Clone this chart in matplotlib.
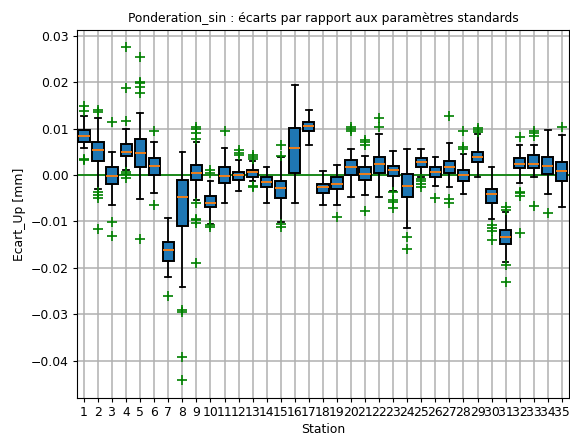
import matplotlib
matplotlib.use("Agg")
import matplotlib.pyplot as plt

plt.rcParams['font.size'] = 8.9
plt.rcParams['xtick.major.size'] = 3.1
plt.rcParams['ytick.major.size'] = 3.1
plt.rcParams['xtick.major.pad'] = 2.6
plt.rcParams['ytick.major.pad'] = 3.1
plt.rcParams['axes.labelpad'] = 3.0

# statistiques par station (valeurs en mm)
stations = list(range(1, 36))

med = [0.0083, 0.0053, -0.0002, 0.0050, 0.0048, 0.0019, -0.0161, -0.0047, 0.0005, -0.0061,
       -0.0002, -0.0001, 0.0006, -0.0016, -0.0028, 0.0058, 0.0106, -0.0027, -0.0020, 0.0017,
       0.0001, 0.0024, 0.0010, -0.0024, 0.0028, 0.0006, 0.0018, -0.0001, 0.0038, -0.0042,
       -0.0133, 0.0024, 0.0024, 0.0019, 0.0008]
q1 = [0.0071, 0.0029, -0.0019, 0.0041, 0.0017, -0.0001, -0.0185, -0.0111, -0.0012, -0.0070,
      -0.0017, -0.0011, -0.0004, -0.0027, -0.0050, 0.0005, 0.0095, -0.0038, -0.0031, 0.0000,
      -0.0011, 0.0005, -0.0002, -0.0048, 0.0018, -0.0005, 0.0004, -0.0014, 0.0027, -0.0061,
      -0.0148, 0.0014, 0.0014, 0.0002, -0.0014]
q3 = [0.0097, 0.0070, 0.0018, 0.0066, 0.0078, 0.0037, -0.0144, -0.0012, 0.0022, -0.0045,
      0.0018, 0.0007, 0.0011, -0.0004, -0.0014, 0.0102, 0.0115, -0.0019, -0.0004, 0.0032,
      0.0017, 0.0039, 0.0020, 0.0002, 0.0037, 0.0017, 0.0031, 0.0011, 0.0050, -0.0030,
      -0.0118, 0.0036, 0.0042, 0.0039, 0.0027]
whislo = [0.0058, -0.0030, -0.0064, 0.0011, -0.0051, -0.0038, -0.0219, -0.0241, -0.0053, -0.0105,
          -0.0060, -0.0034, -0.0014, -0.0060, -0.0101, -0.0060, 0.0064, -0.0064, -0.0064, -0.0047,
          -0.0043, -0.0047, -0.0034, -0.0114, -0.0004, -0.0023, -0.0027, -0.0041, -0.0004, -0.0095,
          -0.0187, -0.0018, -0.0004, -0.0042, -0.0070]
whishi = [0.0126, 0.0122, 0.0049, 0.0098, 0.0133, 0.0072, -0.0092, 0.0050, 0.0070, -0.0014,
          0.0057, 0.0032, 0.0030, 0.0018, 0.0039, 0.0194, 0.0139, 0.0008, 0.0022, 0.0055,
          0.0041, 0.0088, 0.0052, 0.0055, 0.0055, 0.0039, 0.0068, 0.0045, 0.0088, 0.0017,
          -0.0080, 0.0065, 0.0065, 0.0097, 0.0086]
fliers = [
    [0.0149, 0.0138, 0.0035, 0.0032],
    [0.0139, 0.0136, -0.0036, -0.0043, -0.0049, -0.0116],
    [0.0115, -0.0101, -0.0131],
    [0.0275, 0.0187, 0.0117, 0.0007, 0.0002, -0.0007],
    [0.0254, 0.0201, 0.0198, 0.0190, 0.0176, -0.0138],
    [0.0095, -0.0065],
    [-0.0261],
    [-0.0292, -0.0295, -0.0392, -0.0442],
    [0.0104, 0.0098, 0.0090, 0.0077, -0.0061, -0.0094, -0.0097, -0.0103, -0.0189],
    [0.0011, 0.0004, -0.0108, -0.0113],
    [0.0095],
    [0.0054, 0.0048, 0.0043],
    [0.0043, 0.0038, 0.0034, -0.0023, -0.0026],
    [],
    [0.0065, 0.0041, -0.0106, -0.0113],
    [],
    [],
    [],
    [-0.0090],
    [0.0104, 0.0100, 0.0094],
    [0.0075, 0.0070, 0.0065, -0.0077],
    [0.0122, 0.0103],
    [-0.0036, -0.0054, -0.0059, -0.0072],
    [-0.0134, -0.0159],
    [-0.0009, -0.0014, -0.0019, -0.0025],
    [-0.0050],
    [0.0127, -0.0052, -0.0060],
    [0.0095, 0.0061, 0.0055],
    [0.0101, 0.0097, 0.0093],
    [-0.0108, -0.0114, -0.0121, -0.0140],
    [-0.0070, -0.0075, -0.0194, -0.0230],
    [0.0081, -0.0036, -0.0040, -0.0046, -0.0126],
    [0.0095, 0.0090, 0.0084, -0.0067],
    [-0.0083],
    [0.0103],
]

stats = []
for i in range(len(stations)):
    stats.append(dict(med=med[i], q1=q1[i], q3=q3[i], whislo=whislo[i], whishi=whishi[i],
                      fliers=fliers[i], label=str(stations[i])))

fig = plt.figure(figsize=(5.7, 4.37), dpi=100)
ax = fig.add_axes([0.135, 0.089, 0.863, 0.842])

ax.grid(True, color='#b0b0b0', linewidth=1.1, zorder=0)
ax.axhline(0, color='green', linewidth=1.2, zorder=1)

ax.bxp(stats, positions=stations, widths=0.8, patch_artist=True,
       boxprops=dict(facecolor='#1f77b4', edgecolor='black', linewidth=1.4),
       medianprops=dict(color='#ff7f0e', linewidth=1.3),
       whiskerprops=dict(color='black', linewidth=1.3),
       capprops=dict(color='black', linewidth=1.3),
       flierprops=dict(marker='+', markeredgecolor='green', markersize=6.5, markeredgewidth=1.2))

ax.set_axisbelow(True)
ax.set_xlim(0.5, 35.5)
ax.set_ylim(-0.0481, 0.0312)
ax.set_xlabel('Station')
ax.set_ylabel('Ecart_Up [mm]')
ax.set_title('Ponderation_sin : écarts par rapport aux paramètres standards', fontsize=8.9)

fig.savefig('out.png', dpi=100)
